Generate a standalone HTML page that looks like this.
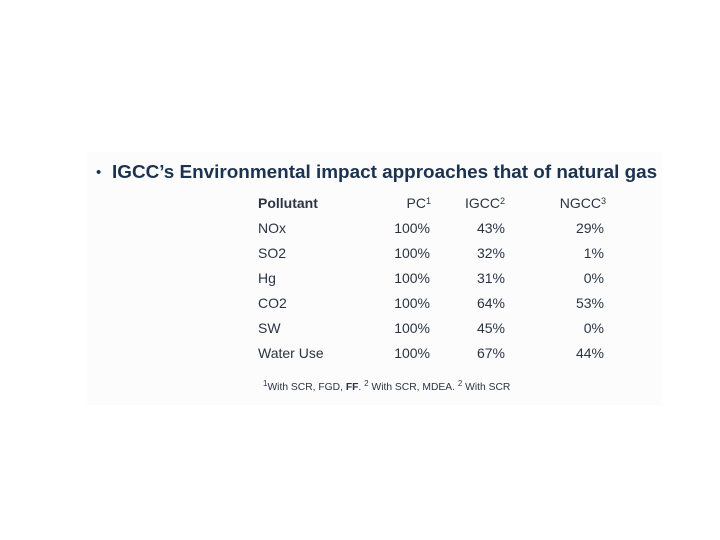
<!DOCTYPE html>
<html><head><meta charset="utf-8"><style>
body{margin:0;width:720px;height:540px;background:#fff;position:relative;overflow:hidden;font-family:"Liberation Sans",sans-serif}
#panel{position:absolute;left:87px;top:152px;width:575px;height:253px;background:#fcfcfc}
.t{position:absolute;white-space:nowrap}
#title{left:112px;top:162px;font-size:18.9px;font-weight:bold;color:#1c3350}
#bullet{left:96px;top:164px;font-size:15px;color:#1c3350}
.c{font-size:14px;color:#2a3444;line-height:16px}
.r{text-align:right}
.h{font-weight:bold}
sup{font-size:9px;vertical-align:4px;line-height:0}
#fn{left:263px;top:382px;font-size:10.3px;color:#2a3444}
#fn sup{font-size:8px}
</style></head><body>
<div id="panel"></div>
<div class="t" id="bullet">•</div>
<div class="t" id="title">IGCC’s Environmental impact approaches that of natural gas</div>
<div id="tbl"></div>
<div class="t" id="fn"><sup>1</sup>With SCR, FGD, <b>FF</b>. <sup>2</sup> With SCR, MDEA. <sup>2</sup> With SCR</div>
<script>
const pollutants=["NOx","SO2","Hg","CO2","SW","Water Use"];
const pc=["100%","100%","100%","100%","100%","100%"];
const igcc=["43%","32%","31%","64%","45%","67%"];
const ngcc=["29%","1%","0%","53%","0%","44%"];
const tbl=document.getElementById('tbl');
function cell(txt,x,y,right,cls,name){
  const d=document.createElement('div');
  d.className='t c '+cls;
  d.innerHTML=txt;
  if(right){d.style.right=(720-x)+'px';d.classList.add('r');}else d.style.left=x+'px';
  d.style.top=y+'px';
  
  
  tbl.appendChild(d);
}
const y0=195,dy=25;
cell('Pollutant',258,y0,false,'h','header-pollutant');
cell('PC<sup>1</sup>',431,y0,true,'','header-pc');
cell('IGCC<sup>2</sup>',505,y0,true,'','header-igcc');
cell('NGCC<sup>3</sup>',606,y0,true,'','header-ngcc');
pollutants.forEach((p,i)=>{
  const y=y0+dy*(i+1);
  cell(p,258,y,false,'','row-label');
  cell(pc[i],430,y,true,'','pc-value');
  cell(igcc[i],505,y,true,'','igcc-value');
  cell(ngcc[i],604,y,true,'','ngcc-value');
});
</script>
</body></html>
